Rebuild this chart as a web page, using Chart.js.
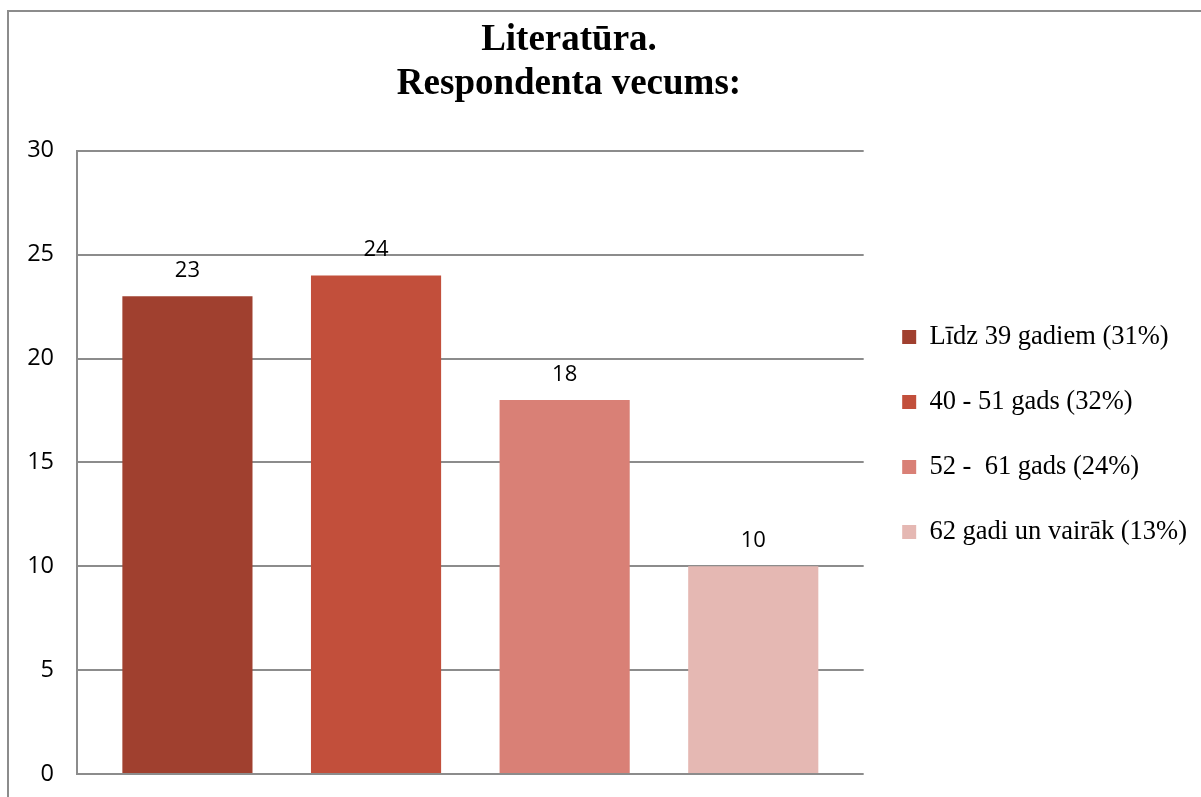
<!DOCTYPE html>
<html>
<head>
<meta charset="utf-8">
<script src="https://cdn.jsdelivr.net/npm/chart.js@4"></script>
<style>
html,body{margin:0;padding:0;background:#fff;overflow:hidden;}
#wrap{position:relative;width:1201px;height:797px;}
#frame{position:absolute;left:7px;top:10px;width:1300px;height:900px;border-top:2px solid #8c8c8c;border-left:2px solid #8c8c8c;pointer-events:none;}
</style>
</head>
<body>
<div id="wrap"><canvas id="c"></canvas><div id="frame"></div></div>
<script>
const titleLines = ['Literatūra.', 'Respondenta vecums:'];
const seriesNames = ['Līdz 39 gadiem (31%)', '40 - 51 gads (32%)', '52 -  61 gads (24%)', '62 gadi un vairāk (13%)'];
const seriesValues = [23, 24, 18, 10];
const seriesColors = ['#A0402F', '#C24F3B', '#D98076', '#E5B8B3'];
const yTicks = [0, 5, 10, 15, 20, 25, 30];

const valueLabels = {
  id: 'valueLabels',
  afterDatasetsDraw(chart) {
    const ctx = chart.ctx;
    ctx.save();
    ctx.font = '22px "Open Sans"';
    ctx.fillStyle = '#000';
    ctx.textAlign = 'center';
    ctx.textBaseline = 'alphabetic';
    chart.data.datasets.forEach((ds, i) => {
      chart.getDatasetMeta(i).data.forEach((bar, j) => {
        ctx.fillText(String(ds.data[j]), bar.x, bar.y - 19);
      });
    });
    ctx.restore();
  }
};

// move the title block sideways (the original title is not centred on the canvas)
const titleShift = {
  id: 'titleShift',
  afterLayout(chart) {
    const t = chart.titleBlock;
    if (t) { t.left += 40.5; t.right += 40.5; }
  }
};

new Chart(document.getElementById('c'), {
  type: 'bar',
  data: {
    labels: [''],
    datasets: seriesNames.map((n, i) => ({
      label: n,
      data: [seriesValues[i]],
      backgroundColor: seriesColors[i],
      borderWidth: 0
    }))
  },
  options: {
    responsive: true,
    maintainAspectRatio: false,
    animation: false,
    layout: { padding: { left: -140, right: 4, top: 0, bottom: 23 } },
    datasets: { bar: { categoryPercentage: 0.959, barPercentage: 0.69 } },
    scales: {
      x: { display: false },
      y: {
        min: 0, max: 30,
        afterBuildTicks: s => { s.ticks = yTicks.map(v => ({ value: v })); },
        afterFit: s => { s.width = 217; },
        ticks: { padding: 0, color: '#000', font: { family: '"Open Sans"', size: 23.5 } },
        grid: { color: '#8c8c8c', lineWidth: 2, drawTicks: true, tickLength: 23, tickColor: 'rgba(0,0,0,0)' },
        border: { color: '#8c8c8c', width: 2 }
      }
    },
    plugins: {
      title: {
        display: true, text: titleLines, color: '#000',
        font: { family: '"Liberation Serif"', size: 37, weight: 'bold', lineHeight: 1.2 },
        padding: { top: 18, bottom: 44 }
      },
      legend: {
        position: 'right',
        title: { display: true, text: '', padding: { top: 85, bottom: 0 }, font: { size: 10, lineHeight: 1 } },
        labels: {
          boxWidth: 14, boxHeight: 14, padding: 38.5, color: '#000',
          font: { family: '"Liberation Serif"', size: 26.5 }
        }
      },
      tooltip: { enabled: false }
    }
  },
  plugins: [valueLabels, titleShift]
});
</script>
</body>
</html>
